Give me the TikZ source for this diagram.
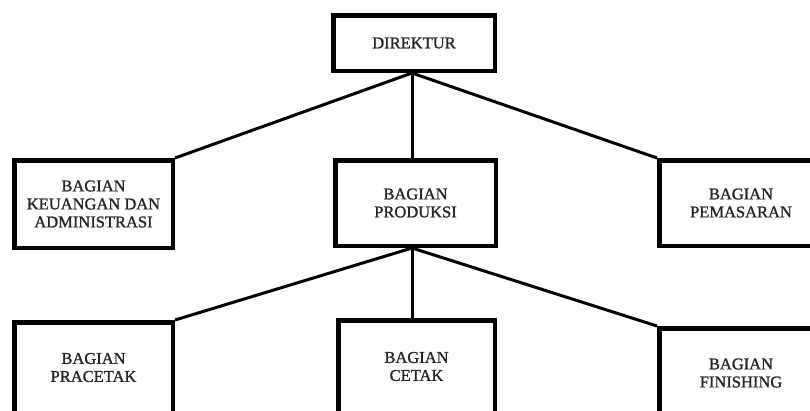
\documentclass[tikz,border=0pt]{standalone}
\usepackage{fontspec}
\setmainfont{Liberation Serif}
\newfontfamily\boxfont[FakeBold=1.2]{Liberation Serif}
\begin{document}
\begin{tikzpicture}[x=1pt,y=-1pt,
  orgbox/.style={draw=black, line width=4.5pt, fill=white, align=center, inner sep=0pt,
    font=\boxfont\fontsize{16.5}{18}\selectfont, text=black!85},
  link/.style={draw=black, line width=3pt}]
\useasboundingbox (0,0) rectangle (810,410);
\clip (0,0) rectangle (810,410);
\fill[white] (0,0) rectangle (810,410);
% nodes (outer size minus line width)
\node[orgbox, minimum width=161.5pt, minimum height=55.5pt] (dir) at (414,43) {DIREKTUR};
\node[orgbox, minimum width=158.5pt, minimum height=87.5pt] (keu) at (93.5,204) {BAGIAN\\KEUANGAN DAN\\ADMINISTRASI};
\node[orgbox, minimum width=160.5pt, minimum height=85.5pt] (prod) at (415.5,203) {BAGIAN\\PRODUKSI};
\node[orgbox, minimum width=163.5pt, minimum height=85.5pt] (pem) at (741,203) {BAGIAN\\PEMASARAN};
\node[orgbox, minimum width=158.5pt, minimum height=90.5pt] (prac) at (93.5,367.5) {BAGIAN\\PRACETAK};
\node[orgbox, minimum width=156.5pt, minimum height=92.5pt] (cet) at (416.5,366.5) {BAGIAN\\CETAK};
\node[orgbox, minimum width=163.5pt, minimum height=89.5pt] (fin) at (741,373) {BAGIAN\\FINISHING};
% connectors
\coordinate (top) at ([xshift=-2pt]dir.south);
\coordinate (mid) at ([xshift=-3.5pt]prod.south);
\draw[link] (top) -- (keu.north east);
\draw[link] (top) -- (top |- prod.north);
\draw[link] (top) -- (pem.north west);
\draw[link] (mid) -- (prac.north east);
\draw[link] (mid) -- (mid |- cet.north);
\draw[link] (mid) -- (fin.north west);
\end{tikzpicture}
\end{document}
